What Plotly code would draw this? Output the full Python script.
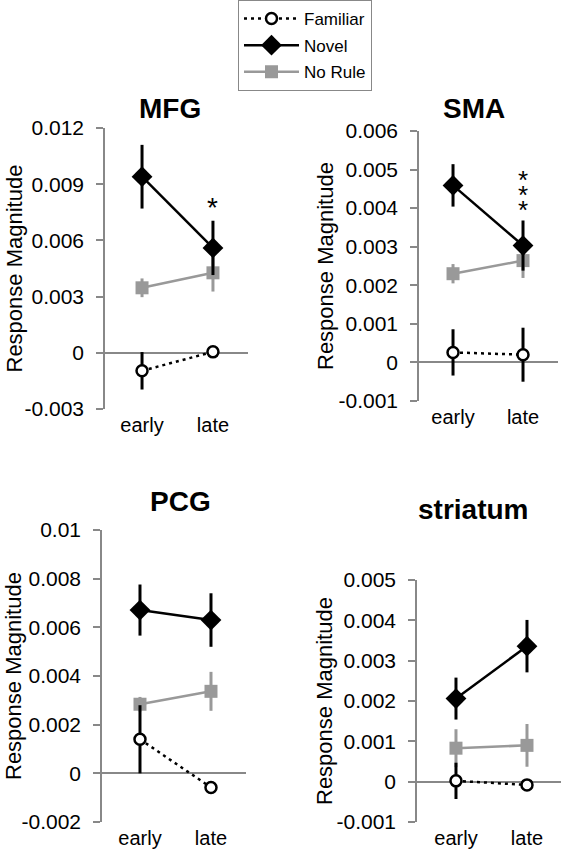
import plotly.graph_objects as go

# ---------------- data ----------------
phases = ["early", "late"]
panels = ["MFG", "SMA", "PCG", "striatum"]

familiar_mfg = [-0.00096, 0.00005]
familiar_mfg_err = [0.0010, 0.0002]
novel_mfg = [0.0094, 0.0056]
novel_mfg_err = [0.0017, 0.00145]
norule_mfg = [0.00347, 0.00427]
norule_mfg_err = [0.0005, 0.0010]

familiar_sma = [0.00026, 0.00020]
familiar_sma_err = [0.0006, 0.0007]
novel_sma = [0.00459, 0.00303]
novel_sma_err = [0.00055, 0.00065]
norule_sma = [0.00230, 0.00264]
norule_sma_err = [0.00025, 0.00045]

familiar_pcg = [0.0014, -0.00058]
familiar_pcg_err = [0.0014, 0.0002]
novel_pcg = [0.00671, 0.0063]
novel_pcg_err = [0.00105, 0.0011]
norule_pcg = [0.00284, 0.00337]
norule_pcg_err = [0.0003, 0.0008]

familiar_str = [0.00002, -0.00008]
familiar_str_err = [0.00045, 0.0001]
novel_str = [0.00206, 0.00336]
novel_str_err = [0.00052, 0.00065]
norule_str = [0.00083, 0.00090]
norule_str_err = [0.00047, 0.00053]

yticks_mfg = [-0.003, 0, 0.003, 0.006, 0.009, 0.012]
yticklabels_mfg = ["-0.003", "0", "0.003", "0.006", "0.009", "0.012"]
yticks_sma = [-0.001, 0, 0.001, 0.002, 0.003, 0.004, 0.005, 0.006]
yticklabels_sma = ["-0.001", "0", "0.001", "0.002", "0.003", "0.004", "0.005", "0.006"]
yticks_pcg = [-0.002, 0, 0.002, 0.004, 0.006, 0.008, 0.01]
yticklabels_pcg = ["-0.002", "0", "0.002", "0.004", "0.006", "0.008", "0.01"]
yticks_str = [-0.001, 0, 0.001, 0.002, 0.003, 0.004, 0.005]
yticklabels_str = ["-0.001", "0", "0.001", "0.002", "0.003", "0.004", "0.005"]

# significance stars: (phase, y)
stars_mfg = [("late", 0.00774)]
stars_sma = [("late", 0.00473), ("late", 0.00434), ("late", 0.00395)]

# ---------------- styling ----------------
FONT = "Liberation Sans, Arial, sans-serif"
GRAY = "#999999"
AXIS_GRAY = "#888888"
W, H = 562, 853


def px(xp):
    return xp / W


def py(yp):
    return 1 - yp / H


panel_data = [
    (familiar_mfg, familiar_mfg_err, novel_mfg, novel_mfg_err, norule_mfg, norule_mfg_err),
    (familiar_sma, familiar_sma_err, novel_sma, novel_sma_err, norule_sma, norule_sma_err),
    (familiar_pcg, familiar_pcg_err, novel_pcg, novel_pcg_err, norule_pcg, norule_pcg_err),
    (familiar_str, familiar_str_err, novel_str, novel_str_err, norule_str, norule_str_err),
]
yticks_all = [(yticks_mfg, yticklabels_mfg), (yticks_sma, yticklabels_sma),
              (yticks_pcg, yticklabels_pcg), (yticks_str, yticklabels_str)]

# pixel boxes for each panel: (left, right, top, bottom)
boxes = [(105, 248, 128, 409), (419, 558, 131, 401), (102, 246, 530, 822), (417, 561, 580, 822)]
xranges = [[-0.522, 1.494], [-0.486, 1.50], [-0.535, 1.493], [-0.549, 1.479]]
title_pos = [(170, 108), (474, 108), (180, 501), (473, 509)]
ylabel_x = [14, 325, 13, 324]

fig = go.Figure()

for i, (fam, fame, nov, nove, nor, nore) in enumerate(panel_data):
    xa = "x" if i == 0 else f"x{i+1}"
    ya = "y" if i == 0 else f"y{i+1}"
    first = i == 0
    # No Rule (gray squares)
    fig.add_trace(go.Scatter(
        x=phases, y=nor, xaxis=xa, yaxis=ya, name="No Rule", legendgroup="norule",
        legendrank=3, showlegend=first, mode="lines+markers",
        line=dict(color=GRAY, width=2.5),
        marker=dict(symbol="square", size=13, color=GRAY),
        error_y=dict(type="data", array=nore, visible=True, color=GRAY, thickness=3, width=0),
    ))
    # Familiar (open circles, dotted)
    fig.add_trace(go.Scatter(
        x=phases, y=fam, xaxis=xa, yaxis=ya, name="Familiar", legendgroup="familiar",
        legendrank=1, showlegend=first, mode="lines+markers",
        line=dict(color="black", width=2.5, dash="3px,4px"),
        marker=dict(symbol="circle", size=11, color="white", line=dict(color="black", width=2.5)),
        error_y=dict(type="data", array=fame, visible=True, color="black", thickness=3, width=0),
    ))
    # Novel (black diamonds)
    fig.add_trace(go.Scatter(
        x=phases, y=nov, xaxis=xa, yaxis=ya, name="Novel", legendgroup="novel",
        legendrank=2, showlegend=first, mode="lines+markers",
        line=dict(color="black", width=2.5),
        marker=dict(symbol="diamond", size=16, color="black"),
        error_y=dict(type="data", array=nove, visible=True, color="black", thickness=3, width=0),
    ))

layout = dict(
    width=W, height=H, margin=dict(l=0, r=0, t=0, b=0, autoexpand=False),
    paper_bgcolor="white", plot_bgcolor="white",
    font=dict(family=FONT, color="black"),
    showlegend=True,
    legend=dict(
        x=px(238), y=1.0, xanchor="left", yanchor="top",
        bordercolor=AXIS_GRAY, borderwidth=1, bgcolor="white",
        font=dict(size=17, family=FONT, color="black"),
        traceorder="grouped", itemwidth=55, tracegroupgap=1.5,
    ),
    annotations=[],
)

for i, (l, r, t, b) in enumerate(boxes):
    xk = "xaxis" if i == 0 else f"xaxis{i+1}"
    yk = "yaxis" if i == 0 else f"yaxis{i+1}"
    ya = "y" if i == 0 else f"y{i+1}"
    xa = "x" if i == 0 else f"x{i+1}"
    tv, tt = yticks_all[i]
    layout[xk] = dict(
        domain=[px(l), min(px(r), 1.0)], anchor=ya, type="category",
        categoryorder="array", categoryarray=phases,
        range=xranges[i], showline=False, showgrid=False, zeroline=False,
        ticks="", tickfont=dict(size=20, family=FONT, color="black"),
        ticklabelstandoff=2, automargin=False,
    )
    layout[yk] = dict(
        domain=[py(b), py(t)], anchor=xa,
        range=[tv[0] - 1e-9, tv[-1] + 1e-9],
        tickmode="array", tickvals=tv, ticktext=tt,
        showline=True, linecolor=AXIS_GRAY, linewidth=1.5,
        ticks="outside", ticklen=7, tickwidth=1.5, tickcolor=AXIS_GRAY,
        ticklabelstandoff=8, automargin=False,
        showgrid=False, zeroline=True, zerolinecolor=AXIS_GRAY, zerolinewidth=1.5,
        tickfont=dict(size=21, family=FONT, color="black"),
    )
    tx, ty = title_pos[i]
    layout["annotations"].append(dict(
        text=f"<b>{panels[i]}</b>", x=px(tx), y=py(ty), xref="paper", yref="paper",
        xanchor="center", yanchor="middle", showarrow=False,
        font=dict(size=28, family=FONT, color="black"),
    ))
    layout["annotations"].append(dict(
        text="Response Magnitude", x=px(ylabel_x[i]), y=py((t + b) / 2),
        xref="paper", yref="paper", xanchor="center", yanchor="middle",
        textangle=-90, showarrow=False,
        font=dict(size=22, family=FONT, color="black"),
    ))

for ph, yv in stars_mfg:
    layout["annotations"].append(dict(text="*", x=ph, y=yv, xref="x", yref="y",
                                      showarrow=False, font=dict(size=28, family=FONT)))
for ph, yv in stars_sma:
    layout["annotations"].append(dict(text="*", x=ph, y=yv, xref="x2", yref="y2",
                                      showarrow=False, font=dict(size=26, family=FONT)))

fig.update_layout(**layout)
fig.write_html("out.html", config={"displayModeBar": False},
               post_script="document.body.style.margin='0';document.body.style.overflow='hidden';")
